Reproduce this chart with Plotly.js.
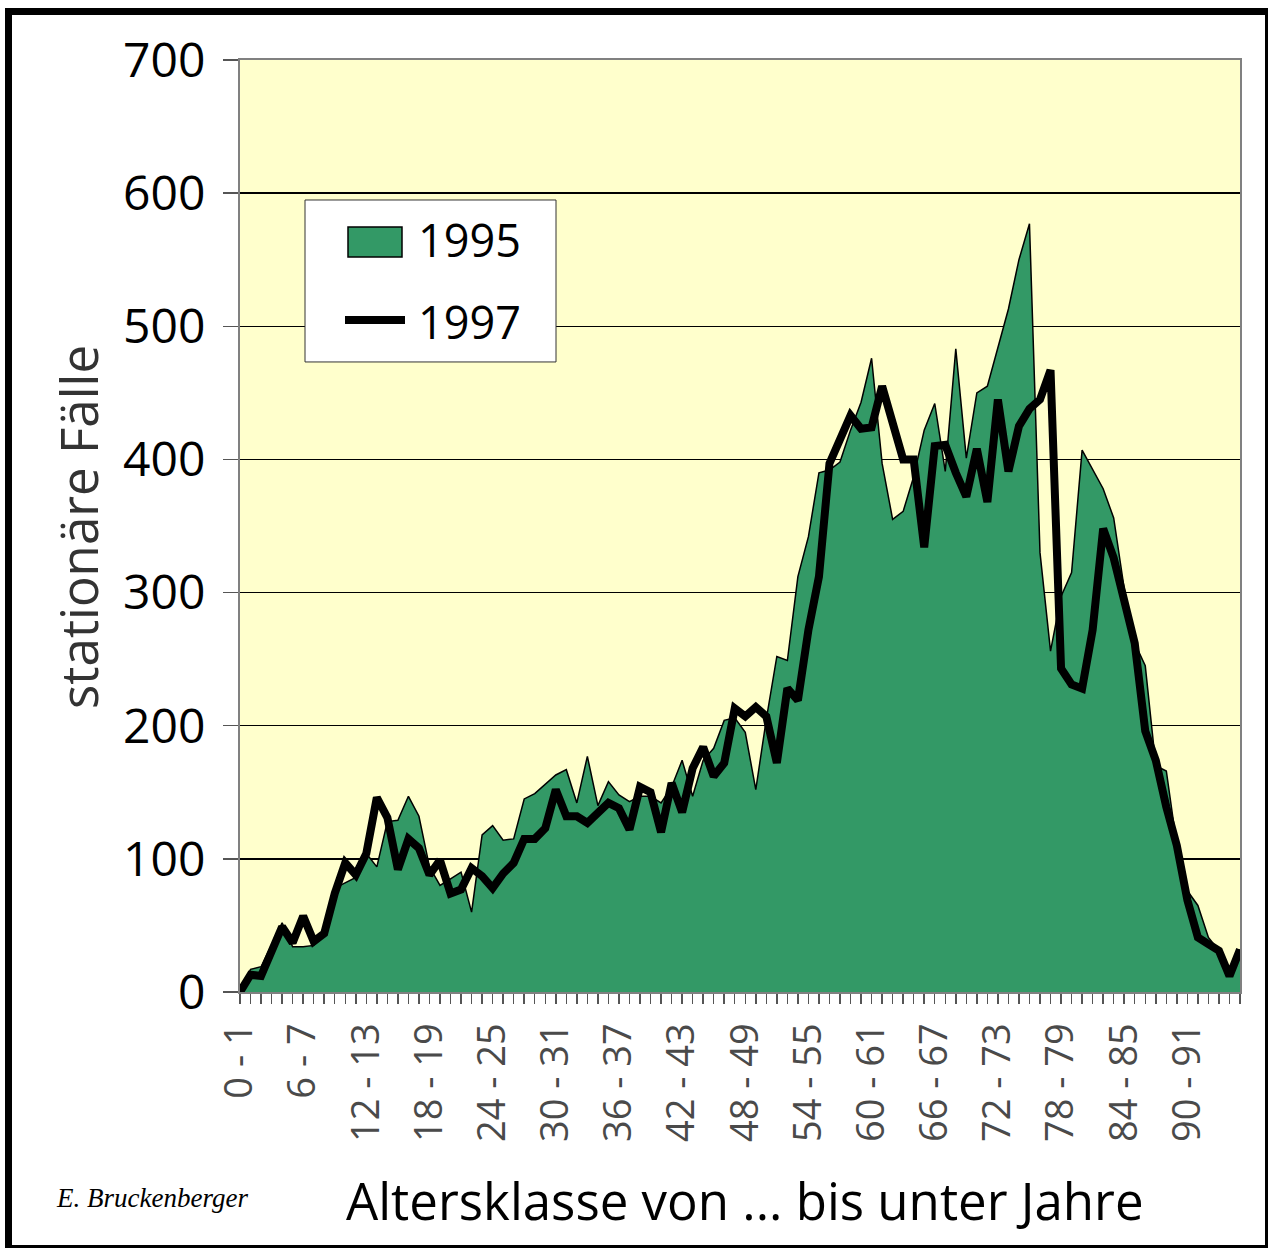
<!DOCTYPE html>
<html>
<head>
<meta charset="utf-8">
<script src="https://cdn.plot.ly/plotly-3.0.1.min.js"></script>
<style>
  html, body { margin: 0; padding: 0; background: #ffffff; }
  #chart { width: 1268px; height: 1248px; }
</style>
</head>
<body>
<div id="chart"></div>
<script>
// Age classes "0 - 1" ... "95 - 96"
const ageClasses = Array.from({ length: 96 }, (_, i) => `${i} - ${i + 1}`);

// stationäre Fälle 1995 (area)
const cases1995 = [
    0, 17, 19, 35, 52, 34, 34, 35, 42, 78,
    82, 86, 104, 94, 128, 129, 147, 132, 94, 80,
    85, 90, 60, 118, 125, 114, 115, 145, 149, 156,
    163, 167, 142, 177, 140, 158, 148, 143, 147, 147,
    142, 154, 174, 147, 174, 183, 204, 206, 195, 152,
    205, 252, 249, 312, 342, 390, 392, 398, 422, 443,
    476, 397, 355, 361, 387, 422, 442, 391, 483, 401,
    450, 455, 485, 513, 550, 577, 330, 256, 297, 315,
    407, 392, 378, 356, 303, 262, 245, 170, 166, 110,
    76, 65, 41, 31, 12, 32
];

// stationäre Fälle 1997 (line)
const cases1997 = [
    0, 13, 12, 32, 49, 37, 57, 38, 44, 74,
    97, 88, 104, 146, 131, 92, 115, 108, 88, 99,
    74, 77, 93, 87, 78, 89, 97, 115, 115, 123,
    152, 132, 132, 127, 134, 142, 138, 122, 154, 150,
    120, 157, 135, 168, 184, 162, 172, 213, 207, 214,
    207, 172, 228, 219, 272, 312, 397, 417, 433, 423,
    424, 455, 430, 400, 400, 334, 410, 411, 390, 372,
    408, 368, 445, 391, 425, 438, 445, 467, 243, 231,
    228, 272, 348, 326, 294, 262, 196, 174, 139, 110,
    69, 41, 36, 31, 12, 32
];

// only every 6th age class gets a label
const tickText = ageClasses.map((c, i) => (i % 6 === 0 ? c : ''));

const green = '#339966';

const traces = [
    {
        x: ageClasses,
        y: cases1995,
        name: '1995',
        type: 'scatter',
        mode: 'lines',
        fill: 'tozeroy',
        fillcolor: green,
        line: { color: '#000000', width: 1.5 }
    },
    {
        x: ageClasses,
        y: cases1997,
        name: '1997',
        type: 'scatter',
        mode: 'lines',
        line: { color: '#000000', width: 8 }
    }
];

const layout = {
    width: 1268,
    height: 1248,
    margin: { l: 240, r: 28, t: 60, b: 256 },
    paper_bgcolor: '#ffffff',
    plot_bgcolor: '#ffffcc',
    font: { family: 'Open Sans, sans-serif', color: '#000000' },
    showlegend: false,
    xaxis: {
        type: 'category',
        range: [0, 95],
        tickmode: 'array',
        tickvals: ageClasses,
        ticktext: tickText,
        tickangle: -90,
        ticks: 'outside',
        ticklen: 10,
        tickwidth: 1.5,
        tickcolor: '#555555',
        ticklabelstandoff: 4,
        tickfont: { size: 38, color: '#4a4a4a' },
        showgrid: false,
        showline: true,
        linecolor: '#808080',
        linewidth: 2,
        mirror: true,
        zeroline: false
    },
    yaxis: {
        range: [0, 700],
        dtick: 100,
        ticks: 'outside',
        ticklen: 15,
        tickwidth: 1.5,
        tickcolor: '#555555',
        ticklabelstandoff: 8,
        tickfont: { size: 48, color: '#000000' },
        showgrid: true,
        gridcolor: '#000000',
        gridwidth: 1.5,
        showline: true,
        linecolor: '#808080',
        linewidth: 2,
        mirror: true,
        zeroline: false
    },
    shapes: [
        // outer frame (thick top/left, thin right/bottom)
        { type: 'line', xref: 'paper', yref: 'paper', x0: -0.2315, x1: -0.2315, y0: 1.0558, y1: -0.2747, line: { color: '#000', width: 7 } },
        { type: 'line', xref: 'paper', yref: 'paper', x0: -0.235, x1: 1.028, y0: 1.052, y1: 1.052, line: { color: '#000', width: 7 } },
        { type: 'line', xref: 'paper', yref: 'paper', x0: 1.0265, x1: 1.0265, y0: 1.0558, y1: -0.2747, line: { color: '#000', width: 3 } },
        { type: 'line', xref: 'paper', yref: 'paper', x0: -0.235, x1: 1.028, y0: -0.2731, y1: -0.2731, line: { color: '#000', width: 3 } },
        // legend box
        { type: 'rect', xref: 'paper', yref: 'paper', x0: 0.065, x1: 0.316, y0: 0.676, y1: 0.8498, fillcolor: '#ffffff', line: { color: '#333333', width: 1 } },
        { type: 'rect', xref: 'paper', yref: 'paper', x0: 0.108, x1: 0.162, y0: 0.7886, y1: 0.8208, fillcolor: green, line: { color: '#000000', width: 1.5 } },
        { type: 'line', xref: 'paper', yref: 'paper', x0: 0.105, x1: 0.165, y0: 0.721, y1: 0.721, line: { color: '#000000', width: 8 } }
    ],
    annotations: [
        { text: '1995', xref: 'paper', yref: 'paper', x: 0.176, y: 0.8069, xanchor: 'left', yanchor: 'middle', showarrow: false, font: { size: 45, color: '#000' } },
        { text: '1997', xref: 'paper', yref: 'paper', x: 0.176, y: 0.7189, xanchor: 'left', yanchor: 'middle', showarrow: false, font: { size: 45, color: '#000' } },
        { text: 'stationäre Fälle', xref: 'paper', yref: 'paper', x: -0.162, y: 0.499, xanchor: 'center', yanchor: 'middle', textangle: -90, showarrow: false, font: { size: 51, color: '#333333' } },
        { text: 'Altersklasse von ... bis unter Jahre', xref: 'paper', yref: 'paper', x: 0.505, y: -0.2232, xanchor: 'center', yanchor: 'middle', showarrow: false, font: { size: 51, color: '#000' } },
        { text: '<i>E. Bruckenberger</i>', xref: 'paper', yref: 'paper', x: -0.186, y: -0.221, xanchor: 'left', yanchor: 'middle', showarrow: false, font: { family: 'Liberation Serif, serif', size: 27, color: '#000' } }
    ]
};

const config = {
    responsive: false,
    displayModeBar: false,
    staticPlot: true
};

Plotly.newPlot('chart', traces, layout, config);
</script>
</body>
</html>
